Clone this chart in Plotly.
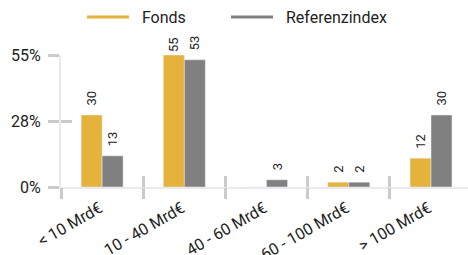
import plotly.graph_objects as go

categories = ["< 10 Mrd€", "10 - 40 Mrd€", "40 - 60 Mrd€", "60 - 100 Mrd€", "> 100 Mrd€"]
fonds = [30, 55, 0, 2, 12]
referenz = [13, 53, 3, 2, 30]
y_tickvals = [0, 27.5, 55]
y_ticktext = ["0%", "28%", "55%"]

C_F = "#E5B23C"
C_R = "#808080"
TICKC = "#cbcbcb"
LINEC = "#e9e9ef"
FONT = "Roboto"

xpos = list(range(len(categories)))
ymax = 55
NB = "\u00a0"


def labels(vals):
    out = []
    for v in vals:
        if not v:
            out.append("")
        elif v >= ymax:
            out.append(str(v))
        else:
            out.append(NB * 2 + str(v))
    return out


fig = go.Figure()
fig.add_trace(go.Bar(x=xpos, y=fonds, name="Fonds", marker_color=C_F, showlegend=False,
                     text=labels(fonds), textposition="outside",
                     textangle=-90, cliponaxis=False, constraintext="none",
                     textfont=dict(size=13, color="#222", family=FONT)))
fig.add_trace(go.Bar(x=xpos, y=referenz, name="Referenzindex", marker_color=C_R, showlegend=False,
                     text=labels(referenz), textposition="outside",
                     textangle=-90, cliponaxis=False, constraintext="none",
                     textfont=dict(size=13, color="#222", family=FONT)))
fig.add_trace(go.Scatter(x=[None], y=[None], mode="lines", name=NB * 2 + "Fonds",
                         line=dict(color=C_F, width=3), legend="legend"))
fig.add_trace(go.Scatter(x=[None], y=[None], mode="lines", name=NB * 2 + "Referenzindex",
                         line=dict(color=C_R, width=3), legend="legend2"))
fig.add_trace(go.Scatter(x=[None], y=[None], xaxis="x2", yaxis="y2", showlegend=False,
                         hoverinfo="skip"))
fig.add_trace(go.Scatter(x=[None], y=[None], xaxis="x3", yaxis="y", showlegend=False,
                         hoverinfo="skip"))

xr = [-0.5, 4.45]
boundaries = [i - 0.5 for i in xpos]
label_pos = [i - 0.03 for i in xpos]

leg_common = dict(orientation="h", xref="container", xanchor="left",
                  y=1.0, yref="container", yanchor="top",
                  font=dict(size=16, color="#222", family=FONT), itemwidth=42)

fig.update_layout(
    width=468, height=255,
    margin=dict(l=61, r=0, t=55, b=68),
    paper_bgcolor="white", plot_bgcolor="white",
    font=dict(family=FONT, size=16, color="#222"),
    barmode="group", bargap=0.49, bargroupgap=0,
    showlegend=True,
    legend=dict(x=82 / 468, **leg_common),
    legend2=dict(x=226 / 468, **leg_common),
    xaxis=dict(range=xr, tickmode="array", tickvals=label_pos, ticktext=categories,
               tickangle=-30, showgrid=False, zeroline=False, automargin=False,
               showline=True, linecolor=LINEC, linewidth=2,
               ticks="", tickfont=dict(size=16, color="#222"), ticklabelstandoff=4),
    yaxis=dict(range=[0, ymax], tickmode="array", tickvals=y_tickvals, ticktext=y_ticktext,
               showgrid=False, zeroline=False, showline=True, linecolor=LINEC, linewidth=2,
               ticks="outside", ticklen=11, tickwidth=3, tickcolor=TICKC, automargin=False,
               tickfont=dict(size=16, color="#222"), ticklabelstandoff=4),
    xaxis2=dict(range=xr, overlaying="x", anchor="y", side="bottom", tickmode="array",
                tickvals=boundaries, showticklabels=False, ticks="inside", ticklen=11,
                tickwidth=3, tickcolor=TICKC, showgrid=False, zeroline=False, showline=False,
                automargin=False),
    yaxis2=dict(range=[0, ymax], overlaying="y", anchor="x", side="left", tickmode="array",
                tickvals=y_tickvals, showticklabels=False, ticks="inside", ticklen=11,
                tickwidth=3, tickcolor=TICKC, showgrid=False, zeroline=False, showline=False,
                automargin=False),
    xaxis3=dict(range=xr, overlaying="x", anchor="y", side="bottom", tickmode="array",
                tickvals=boundaries, showticklabels=False, ticks="outside", ticklen=11,
                tickwidth=3, tickcolor=TICKC, showgrid=False, zeroline=False, showline=False,
                automargin=False),
)

fig.write_html("out.html", config={"displayModeBar": False},
               post_script="document.body.style.margin='0';")
